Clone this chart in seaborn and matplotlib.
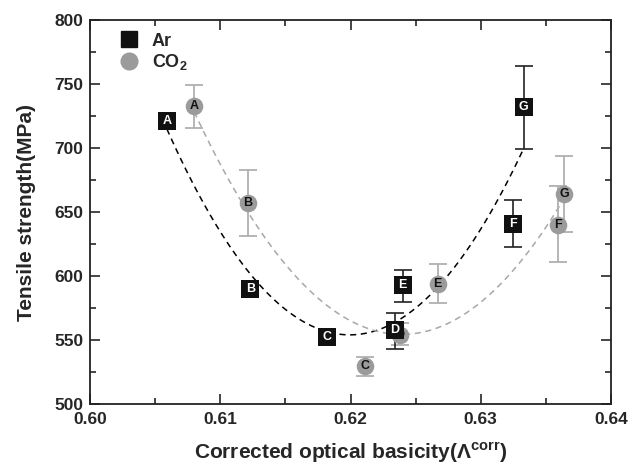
import numpy as np
import pandas as pd
import matplotlib
matplotlib.use("Agg")
import matplotlib.pyplot as plt
from matplotlib.lines import Line2D
import seaborn as sns

labels = ["A", "B", "C", "D", "E", "F", "G"]
ar_x = [0.6059, 0.6123, 0.6182, 0.6234, 0.6240, 0.6325, 0.6333]
ar_y = [721, 590, 552, 558, 593, 641, 732]
ar_lo = [719, 588, 550, 543, 580, 623, 699]
ar_hi = [723, 592, 554, 571, 605, 659, 764]

co2_x = [0.6080, 0.6121, 0.6211, 0.6238, 0.6267, 0.6359, 0.6364]
co2_y = [733, 657, 530, 554, 594, 640, 664]
co2_lo = [716, 631, 522, 546, 579, 611, 634]
co2_hi = [749, 683, 537, 563, 609, 670, 694]

x_ticks = [0.60, 0.61, 0.62, 0.63, 0.64]
y_ticks = [500, 550, 600, 650, 700, 750, 800]

sns.set_style("ticks")
plt.rcParams['font.family'] = ['Liberation Sans', 'DejaVu Sans']
plt.rcParams['font.weight'] = 'bold'
plt.rcParams['mathtext.fontset'] = 'custom'
plt.rcParams['mathtext.bf'] = 'Liberation Sans:bold'
plt.rcParams['mathtext.rm'] = 'Liberation Sans:bold'

ar = pd.DataFrame({"x": ar_x, "y": ar_y, "lab": labels})
co2 = pd.DataFrame({"x": co2_x, "y": co2_y, "lab": labels})
co2_fit = co2[co2["lab"] != "B"]

fig = plt.figure(figsize=(6.3, 4.68), dpi=100)
ax = fig.add_axes([90/630, 1-404/468, (611-90)/630, (404-20)/468])

grey = "#9b9b9b"
# fits
sns.regplot(data=ar, x="x", y="y", order=2, ci=None, scatter=False, truncate=True,
            ax=ax, line_kws=dict(color="black", lw=1.1, ls=(0, (4, 3))))
sns.regplot(data=co2_fit, x="x", y="y", order=2, ci=None, scatter=False, truncate=True,
            ax=ax, line_kws=dict(color="#a8a8a8", lw=1.1, ls=(0, (4, 3))))

# error bars
ax.errorbar(co2_x, co2_y,
            yerr=[np.array(co2_y) - np.array(co2_lo), np.array(co2_hi) - np.array(co2_y)],
            fmt="none", ecolor="#b0b0b0", elinewidth=1.3, capsize=6.5, capthick=1.3, zorder=3)
ax.errorbar(ar_x, ar_y,
            yerr=[np.array(ar_y) - np.array(ar_lo), np.array(ar_hi) - np.array(ar_y)],
            fmt="none", ecolor="#222222", elinewidth=1.2, capsize=6.5, capthick=1.2, zorder=3)

sns.scatterplot(data=co2, x="x", y="y", marker="o", s=160, color=grey, edgecolor=grey,
                linewidth=0, ax=ax, zorder=4)
sns.scatterplot(data=ar, x="x", y="y", marker="s", s=150, color="#111111", edgecolor="#111111",
                linewidth=0, ax=ax, zorder=5)

for xx, yy, lab in zip(co2_x, co2_y, labels):
    ax.text(xx, yy, lab, ha="center", va="center", fontsize=9, fontweight="bold",
            color="#111111", zorder=6)
for xx, yy, lab in zip(ar_x, ar_y, labels):
    ax.text(xx, yy, lab, ha="center", va="center", fontsize=9, fontweight="bold",
            color="white", zorder=7)

ax.set_xlim(0.60, 0.64)
ax.set_ylim(500, 800)
ax.set_xticks(x_ticks)
ax.set_yticks(y_ticks)
ax.set_xticklabels([f"{t:.2f}" for t in x_ticks])
ax.set_xticks(np.arange(0.605, 0.64, 0.01), minor=True)
ax.set_yticks(np.arange(525, 800, 50), minor=True)
ax.tick_params(which="both", direction="in", top=True, right=True, width=1.2)
ax.tick_params(which="major", length=7, labelsize=12.5)
ax.tick_params(axis="x", which="major", pad=6)
ax.tick_params(axis="y", which="major", pad=5)
ax.tick_params(which="minor", length=4)
for lab in ax.get_xticklabels() + ax.get_yticklabels():
    lab.set_fontweight("bold")
for s in ax.spines.values():
    s.set_linewidth(1.3)
    s.set_color("#222222")

ax.set_xlabel(r"Corrected optical basicity($\mathbf{\Lambda}^{\mathbf{corr}}$)", fontsize=15,
              fontweight="bold", labelpad=9)
ax.set_ylabel("Tensile strength(MPa)", fontsize=15, fontweight="bold", labelpad=13)

handles = [Line2D([], [], marker="s", ls="none", color="#111111", markersize=11),
           Line2D([], [], marker="o", ls="none", color=grey, markersize=12)]
ax.legend(handles, ["Ar", r"CO$_\mathbf{2}$"], loc="upper left", frameon=False,
          prop=dict(size=13, weight="bold"), handletextpad=0.3, labelspacing=0.15,
          borderaxespad=0.3, bbox_to_anchor=(0.015, 1.0))

fig.savefig("out.png", dpi=100)
